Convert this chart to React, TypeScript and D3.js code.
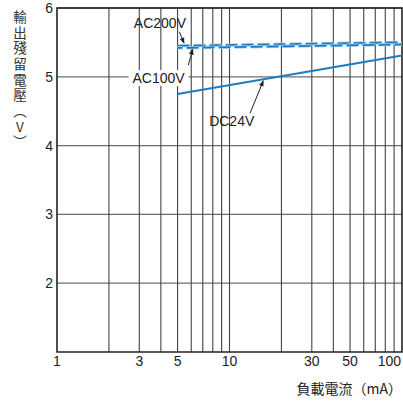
import React from 'react';
import * as d3 from 'd3';

// load current (mA) vs residual output voltage (V)
const xTicks = [1, 3, 5, 10, 30, 50, 100];
const xGrid = [2, 3, 4, 5, 6, 7, 8, 9, 10, 20, 30, 40, 50, 60, 70, 80, 90];
const yTicks = [2, 3, 4, 5, 6];

const dc24Current = [5, 100];
const dc24Voltage = [4.75, 5.31];
const ac100Current = [5, 100];
const ac100Voltage = [5.42, 5.47];
const ac200Current = [5, 100];
const ac200Voltage = [5.45, 5.5];

const yTitle = '輸出殘留電壓（V）';
const xTitle = '負載電流（mA）';

// annotation labels and arrows, in data units [current, voltage]
const labels = [
  { text: 'AC200V', at: [3.95, 5.71], box: false },
  { text: 'AC100V', at: [3.88, 4.91], box: true },
  { text: 'DC24V', at: [10.3, 4.285], box: false },
];
const arrows = [
  { from: [5.12, 5.655], to: [5.45, 5.49] },
  { from: [5.77, 5.17], to: [6.12, 5.4] },
  { from: [13.15, 4.47], to: [15.7, 4.94] },
];

const W = 403;
const H = 401;
const margin = { top: 8, right: 1, bottom: 49, left: 57 };
const blue = '#1c7cc4';
const ink = '#222';
const font = "'Liberation Sans', Arial, sans-serif";
const cjk = "'Noto Sans CJK TC', 'Noto Sans CJK JP', sans-serif";

const App: React.FC = () => {
  const x = d3.scaleLog().domain([1, 100]).range([margin.left, W - margin.right]);
  const y = d3.scaleLinear().domain([1, 6]).range([H - margin.bottom, margin.top]);
  const line = d3
    .line<[number, number]>()
    .x((d) => x(d[0]))
    .y((d) => y(d[1]));

  const pts = (cs: number[], vs: number[]) => cs.map((c, i) => [c, vs[i]] as [number, number]);

  const [x0, x1] = x.range();
  const [y0, y1] = y.range();

  return (
    <svg
      width={W}
      height={H}
      style={{ position: 'absolute', left: 0, top: 0, background: '#fff' }}
    >
      <defs>
        <marker id="head" viewBox="0 0 10 10" refX="9" refY="5" markerWidth="6" markerHeight="6" orient="auto">
          <path d="M0,1 L10,5 L0,9 Z" fill={ink} />
        </marker>
      </defs>

      {/* grid */}
      {yTicks.map((t) => (
        <line key={'gy' + t} x1={x0} x2={x1} y1={y(t)} y2={y(t)} stroke="#6e6e6e" strokeWidth={1.3} />
      ))}
      {xGrid.map((t) => (
        <line key={'gx' + t} x1={x(t)} x2={x(t)} y1={y0} y2={y1} stroke="#444" strokeWidth={1.1} />
      ))}

      {/* frame */}
      <path d={`M${x0},${y1} H${x1} V${y0} H${x0} Z`} fill="none" stroke={ink} strokeWidth={1.6} />

      {/* series */}
      <path d={line(pts(dc24Current, dc24Voltage)) || ''} fill="none" stroke={blue} strokeWidth={2} />
      {[
        { c: ac200Current, v: ac200Voltage, off: 0 },
        { c: ac100Current, v: ac100Voltage, off: 7 },
      ].map((s, i) => (
        <g key={'ac' + i}>
          <path
            d={line(pts(s.c, s.v)) || ''}
            fill="none"
            stroke="#a9d0ee"
            strokeWidth={3.4}
            strokeDasharray="12 4"
            strokeDashoffset={s.off}
          />
          <path
            d={line(pts(s.c, s.v)) || ''}
            fill="none"
            stroke={blue}
            strokeWidth={1.8}
            strokeDasharray="12 4"
            strokeDashoffset={s.off}
          />
        </g>
      ))}

      {/* annotations */}
      {labels.map((l) =>
        l.box ? (
          <rect
            key={'b' + l.text}
            x={x(l.at[0]) - 30}
            y={y(l.at[1]) - 13}
            width={60}
            height={16}
            fill="#fff"
          />
        ) : null,
      )}
      {labels.map((l) => (
        <text
          key={l.text}
          x={x(l.at[0])}
          y={y(l.at[1])}
          textAnchor="middle"
          fontFamily={font}
          fontSize={14}
          fill={ink}
        >
          {l.text}
        </text>
      ))}
      {arrows.map((a, i) => (
        <line
          key={'a' + i}
          x1={x(a.from[0])}
          y1={y(a.from[1])}
          x2={x(a.to[0])}
          y2={y(a.to[1])}
          stroke={ink}
          strokeWidth={1}
          markerEnd="url(#head)"
        />
      ))}

      {/* axes labels */}
      {yTicks.map((t) => (
        <text
          key={'ty' + t}
          x={x0 - 4}
          y={y(t)}
          dy="0.36em"
          textAnchor="end"
          fontFamily={font}
          fontSize={14}
          fill={ink}
        >
          {t}
        </text>
      ))}
      {xTicks.map((t, i) => (
        <text
          key={'tx' + t}
          x={i === xTicks.length - 1 ? x(t) - 1 : x(t)}
          y={y0 + 14}
          textAnchor={i === xTicks.length - 1 ? 'end' : 'middle'}
          fontFamily={font}
          fontSize={14}
          fill={ink}
        >
          {t}
        </text>
      ))}
      <text x={x1} y={y0 + 42} textAnchor="end" fontFamily={cjk} fontSize={14} fill={ink}>
        {xTitle}
      </text>
      <text
        x={20}
        y={10}
        fontFamily={cjk}
        fontSize={13.5}
        letterSpacing={2.2}
        fill="#333"
        style={{ writingMode: 'vertical-rl', textOrientation: 'upright' }}
      >
        {yTitle}
      </text>
    </svg>
  );
};

export default App;
